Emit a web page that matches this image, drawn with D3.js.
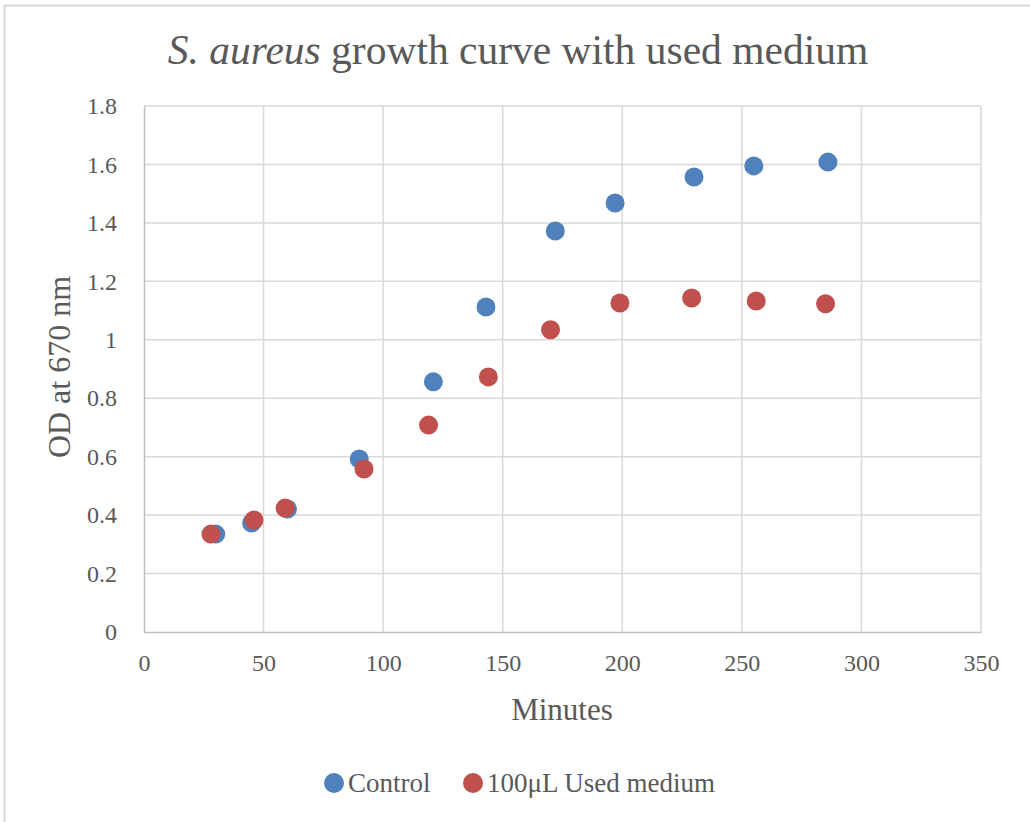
<!DOCTYPE html>
<html><head><meta charset="utf-8">
<script src="https://cdn.jsdelivr.net/npm/d3@7"></script>
<style>body{margin:0;background:#fff}svg{display:block}</style>
</head><body>
<svg id="c" width="1030" height="822"></svg>
<script>
const controlX = [30, 45, 60, 90, 121, 143, 172, 197, 230, 255, 286];
const controlY = [0.335, 0.373, 0.421, 0.592, 0.856, 1.112, 1.372, 1.468, 1.557, 1.595, 1.608];
const usedX = [28, 46, 59, 92, 119, 144, 170, 199, 229, 256, 285];
const usedY = [0.335, 0.383, 0.424, 0.558, 0.708, 0.873, 1.034, 1.126, 1.143, 1.133, 1.123];
const xTicks = [0, 50, 100, 150, 200, 250, 300, 350];
const yTicks = [0, 0.2, 0.4, 0.6, 0.8, 1, 1.2, 1.4, 1.6, 1.8];
const seriesNames = ["Control", "100\u03BCL Used medium"];
const colors = ["#4F81BD", "#C0504D"];

const font = "'Liberation Serif', 'DejaVu Serif', serif";
const svg = d3.select("#c");
const L = 144, R = 981, T = 106, B = 632;
const x = d3.scaleLinear().domain([0, 350]).range([L, R]);
const y = d3.scaleLinear().domain([0, 1.8]).range([B, T]);

// chart border (top and left visible)
svg.append("path").attr("d", "M4.5,1030 V5.5 H1030").attr("fill", "none").attr("stroke", "#d9d9d9").attr("stroke-width", 2);

// gridlines
const g = svg.append("g");
g.selectAll(".hg").data(yTicks.filter(d => d > 0)).join("line")
  .attr("x1", L).attr("x2", R).attr("y1", d => y(d)).attr("y2", d => y(d))
  .attr("stroke", "#d9d9d9").attr("stroke-width", 1.5);
g.selectAll(".vg").data(xTicks.filter(d => d > 0)).join("line")
  .attr("y1", T).attr("y2", B).attr("x1", d => x(d)).attr("x2", d => x(d))
  .attr("stroke", "#d9d9d9").attr("stroke-width", 1.5);

// axes
const xAxis = svg.append("g").attr("transform", `translate(0,${B})`)
  .call(d3.axisBottom(x).tickValues(xTicks).tickSize(0).tickPadding(22).tickFormat(d3.format("d")));
const yAxis = svg.append("g").attr("transform", `translate(${L},0)`)
  .call(d3.axisLeft(y).tickValues(yTicks).tickSize(0).tickPadding(27).tickFormat(d => d3.format("")(+d.toFixed(1))));
[xAxis, yAxis].forEach(a => {
  a.select(".domain").attr("stroke", "#bfbfbf").attr("stroke-width", 1.5);
  a.selectAll("text").attr("font-family", font).attr("font-size", 24).attr("fill", "#595959");
});

// series
const data = [controlX.map((v, i) => [v, controlY[i]]), usedX.map((v, i) => [v, usedY[i]])];
data.forEach((s, k) => {
  svg.append("g").selectAll("circle").data(s).join("circle")
    .attr("cx", d => x(d[0])).attr("cy", d => y(d[1])).attr("r", 9.5).attr("fill", colors[k]);
});

// title
const title = svg.append("text").attr("x", 518).attr("y", 64).attr("text-anchor", "middle")
  .attr("font-family", font).attr("font-size", 41.5).attr("fill", "#595959");
title.append("tspan").attr("font-style", "italic").text("S. aureus");
title.append("tspan").text(" growth curve with used medium");

// axis titles
svg.append("text").attr("x", 562).attr("y", 720).attr("text-anchor", "middle")
  .attr("font-family", font).attr("font-size", 31).attr("fill", "#595959").text("Minutes");
svg.append("text").attr("transform", "translate(70,367) rotate(-90)").attr("text-anchor", "middle")
  .attr("font-family", font).attr("font-size", 32).attr("fill", "#595959").text("OD at 670 nm");

// legend
const leg = svg.append("g");
const legX = [334, 473];
seriesNames.forEach((n, k) => {
  leg.append("circle").attr("cx", legX[k]).attr("cy", 783).attr("r", 10).attr("fill", colors[k]);
  leg.append("text").attr("x", legX[k] + 14).attr("y", 792).attr("font-family", font)
    .attr("font-size", 27).attr("fill", "#595959").text(n);
});
</script>
</body></html>
